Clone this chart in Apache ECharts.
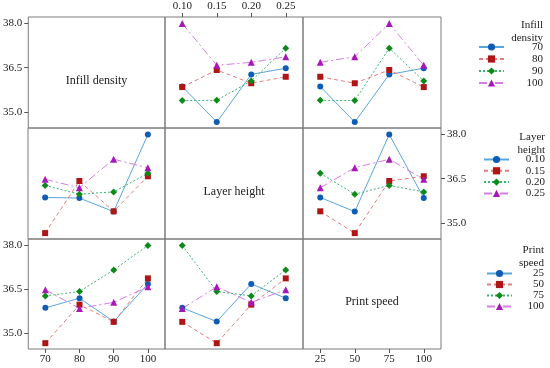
<!DOCTYPE html>
<html>
<head>
<meta charset="utf-8">
<script src="https://cdn.jsdelivr.net/npm/echarts@6/dist/echarts.min.js"></script>
<style>html,body{margin:0;padding:0;background:#fff}#c{width:550px;height:368px}</style>
</head>
<body>
<div id="c"></div>
<script>
// Factor levels
const infillLevels = ['70', '80', '90', '100'];
const layerLevels = ['0.10', '0.15', '0.20', '0.25'];
const speedLevels = ['25', '50', '75', '100'];
const factorNames = ['Infill density', 'Layer height', 'Print speed'];
const legendTitles = ['Infill\ndensity', 'Layer\nheight', 'Print\nspeed'];
const yTickValues = [35.0, 36.5, 38.0];

const runInfill = ['70','70','70','70','80','80','80','80','90','90','90','90','100','100','100','100'];
const runLayer  = ['0.10','0.15','0.20','0.25','0.10','0.15','0.20','0.25','0.10','0.15','0.20','0.25','0.10','0.15','0.20','0.25'];
const runSpeed  = ['25','50','75','100','100','75','50','25','50','25','100','75','75','100','25','50'];
const runValue  = [35.86,34.65,36.27,36.48, 35.84,36.42,35.97,36.19, 35.38,35.39,36.05,37.16, 38.00,36.58,36.68,36.87];

const levels = [infillLevels, layerLevels, speedLevels];
const runCols = [runInfill, runLayer, runSpeed];
const prefixes = ['ID', 'LH', 'PS'];

const markerColors = ['#0d5cb6', '#b01515', '#0b8a1a', '#a818b8'];
const lineColors = ['#5aa5dc', '#e57d7d', '#3cb474', '#d67ee4'];
const symbols = ['circle', 'rect', 'diamond', 'triangle'];
const symbolSizes = [6, 6, 7, 7];
const lineTypes = ['solid', [4, 3], [2, 2], [8, 3, 2, 3]];

const FONT = 'Liberation Serif';
const colLeft = [28, 165, 303];
const colWidth = [137, 138, 138];
const rowTop = [17, 128, 239];
const rowHeight = [111, 111, 110];
const YMIN = 34.45, YMAX = 38.22;

const grids = [], xAxes = [], yAxes = [], series = [], graphics = [];
for (let r = 0; r < 3; r++) {
  for (let c = 0; c < 3; c++) {
    const g = r * 3 + c;
    grids.push({
      left: colLeft[c], top: rowTop[r], width: colWidth[c], height: rowHeight[r],
      show: true, borderColor: '#7a7a7a', borderWidth: 1, backgroundColor: 'transparent'
    });
    const showX = (r === 0 && c === 1) || (r === 2 && c === 0) || (r === 2 && c === 2);
    xAxes.push({
      type: 'category', gridIndex: g, data: levels[c], boundaryGap: true,
      position: (r === 0 && c === 1) ? 'top' : 'bottom',
      axisLine: { show: false },
      axisTick: { show: showX, alignWithLabel: true, length: 4, lineStyle: { color: '#555' } },
      axisLabel: { show: showX, margin: 5, fontFamily: FONT, fontSize: 11, color: '#222' },
      splitLine: { show: false }
    });
    const showY = (r === 0 && c === 0) || (r === 1 && c === 2) || (r === 2 && c === 0);
    yAxes.push({
      type: 'value', gridIndex: g, min: YMIN, max: YMAX,
      position: (r === 1 && c === 2) ? 'right' : 'left',
      axisLine: { show: false },
      splitLine: { show: false },
      axisTick: { show: showY, length: 4, customValues: yTickValues, lineStyle: { color: '#555' } },
      axisLabel: { show: showY, margin: 6, customValues: yTickValues, fontFamily: FONT, fontSize: 11, color: '#222',
        formatter: v => Number(v).toFixed(1) }
    });
    if (r === c) {
      graphics.push({
        type: 'text', x: colLeft[c] + colWidth[c] / 2, y: rowTop[r] + rowHeight[r] / 2 + 8,
        style: { text: factorNames[r], align: 'center', verticalAlign: 'middle', font: '12px "' + FONT + '"', fill: '#222' }
      });
      continue;
    }
    levels[r].forEach((lev, k) => {
      const data = levels[c].map(xl => {
        for (let i = 0; i < runValue.length; i++) {
          if (runCols[r][i] === lev && runCols[c][i] === xl) return runValue[i];
        }
        return null;
      });
      series.push({
        type: 'line', name: prefixes[r] + '|' + lev, xAxisIndex: g, yAxisIndex: g, data: data,
        symbol: symbols[k], symbolSize: symbolSizes[k],
        itemStyle: { color: markerColors[k] },
        lineStyle: { color: lineColors[k], width: 1, type: lineTypes[k] },
        animation: false
      });
    });
  }
}

const legendTop = [41.5, 154, 268];
const legendStepGap = [1, 0.3, 0];
const legendLeft = [478, 483, 486];
const legendTextW = [34, 31, 27];
const legendTitleY = [25, 137, 250];
const legendTitleX = [543, 545, 544];
const legends = [0, 1, 2].map(r => ({
  orient: 'vertical', left: legendLeft[r], top: legendTop[r],
  itemWidth: 25, itemHeight: 9, itemGap: legendStepGap[r], padding: 0,
  selectedMode: false,
  data: levels[r].map(l => prefixes[r] + '|' + l),
  formatter: name => '{a|' + name.split('|')[1] + '}',
  textStyle: { fontFamily: FONT, fontSize: 11, color: '#222', lineHeight: 9,
    rich: { a: { width: legendTextW[r], align: 'right', fontFamily: FONT, fontSize: 11, lineHeight: 9, color: '#222' } } }
}));
[0, 1, 2].forEach(r => {
  graphics.push({
    type: 'text', x: legendTitleX[r], y: legendTitleY[r] - 6,
    style: { text: legendTitles[r], align: 'right', verticalAlign: 'top', lineHeight: 12.5,
      font: '11px "' + FONT + '"', fill: '#222' }
  });
});

const chart = echarts.init(document.getElementById('c'), null, { renderer: 'canvas' });
chart.setOption({
  animation: false,
  backgroundColor: '#fff',
  grid: grids, xAxis: xAxes, yAxis: yAxes, series: series,
  legend: legends, graphic: graphics
});
</script>
</body>
</html>
